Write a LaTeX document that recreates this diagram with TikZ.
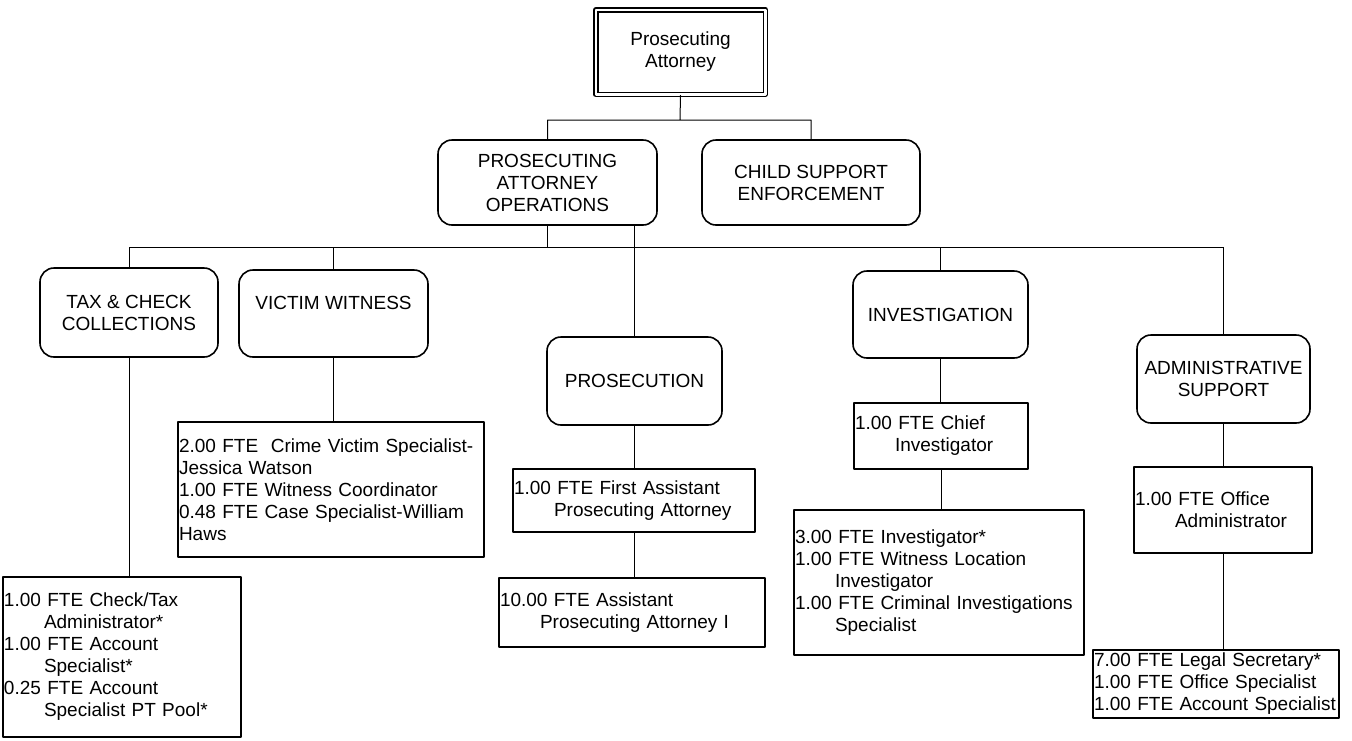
\documentclass[tikz,border=0pt]{standalone}
\usepackage{fontspec}
\setmainfont{Liberation Sans}
\newcommand{\ftein}{\hspace*{40pt}}
\tikzset{
  unit/.style={draw, line width=1.6pt, rounded corners=14pt, align=center, inner sep=0pt},
  staff/.style={draw, line width=1.6pt, align=left, inner sep=1pt},
  link/.style={line width=1pt}
}
\begin{document}
\begin{tikzpicture}[x=1pt, y=-1pt, line join=round, font=\fontsize{19pt}{22pt}\selectfont]
\useasboundingbox (0,0) rectangle (1352,740);
% top of the chart
\node[draw, double=white, line width=1.5pt, double distance=2.5pt, minimum width=169.5pt, minimum height=84.5pt, align=center, inner sep=0pt] (pa) at (680.5,52) {Prosecuting\\Attorney};
\node[unit, minimum width=219pt, minimum height=85pt] (pao) at (547.5,182.5) {PROSECUTING\\ATTORNEY\\OPERATIONS};
\node[unit, minimum width=218pt, minimum height=85pt] (cse) at (811,182.5) {CHILD SUPPORT\\ENFORCEMENT};
\coordinate (bus1) at (680,120);
\coordinate (bus2) at (0,247);
\draw[link] (pa.south) -- (bus1) (pao.north) |- (bus1) -| (cse.north);
% divisions
\node[unit, minimum width=178pt, minimum height=89pt] (tcc) at (129,312.5) {TAX \& CHECK\\COLLECTIONS};
\node[unit, minimum width=189pt, minimum height=87pt] (vw) at (333.5,313.5) {VICTIM WITNESS\\\mbox{}};
\node[unit, minimum width=175pt, minimum height=88pt] (pros) at (634.5,381) {PROSECUTION};
\node[unit, minimum width=175pt, minimum height=87pt] (inv) at (940.5,314.5) {INVESTIGATION};
\node[unit, minimum width=173pt, minimum height=88pt] (adm) at (1223.5,379) {ADMINISTRATIVE\\SUPPORT};
\draw[link] (pao.south) -- (pao.south |- bus2) (tcc.north |- bus2) -- (adm.north |- bus2)
  (pros.north |- pao.south) -- (pros.north);
\foreach \u in {tcc,vw,inv,adm}
  \draw[link] (\u.north |- bus2) -- (\u.north);
% staff
\node[staff, text width=236pt, minimum height=160pt] (tccstaff) at (122,657) {1.00 FTE Check/Tax\\\ftein Administrator*\\1.00 FTE Account\\\ftein Specialist*\\0.25 FTE Account\\\ftein Specialist PT Pool*};
\node[staff, text width=304pt, minimum height=135pt] (vwstaff) at (331,489.5) {2.00 FTE\ \ Crime Victim Specialist-\\Jessica Watson\\1.00 FTE Witness Coordinator\\0.48 FTE Case Specialist-William\\Haws};
\node[staff, text width=240pt, minimum height=63pt] (fap) at (634,500.5) {1.00 FTE First Assistant\\\ftein Prosecuting Attorney};
\node[staff, text width=264pt, minimum height=69pt] (apa) at (632,612.5) {10.00 FTE Assistant\\\ftein Prosecuting Attorney I};
\node[staff, text width=172pt, minimum height=66pt] (chief) at (941,436) {1.00 FTE Chief\\\ftein Investigator};
\node[staff, text width=288pt, minimum height=145pt] (invstaff) at (939,582.5) {3.00 FTE Investigator*\\1.00 FTE Witness Location\\\ftein Investigator\\1.00 FTE Criminal Investigations\\\ftein Specialist};
\node[staff, text width=176pt, minimum height=86pt] (offadm) at (1223,510) {1.00 FTE Office\\\ftein Administrator};
\node[staff, text width=244pt, minimum height=68pt] (secstaff) at (1216,684) {7.00 FTE Legal Secretary*\\1.00 FTE Office Specialist\\1.00 FTE Account Specialist};
\foreach \a/\b in {tcc/tccstaff,vw/vwstaff,pros/fap,fap/apa,inv/chief,chief/invstaff,adm/offadm,offadm/secstaff}
  \draw[link] (\a.south) -- (\a.south |- \b.north);
\end{tikzpicture}
\end{document}
